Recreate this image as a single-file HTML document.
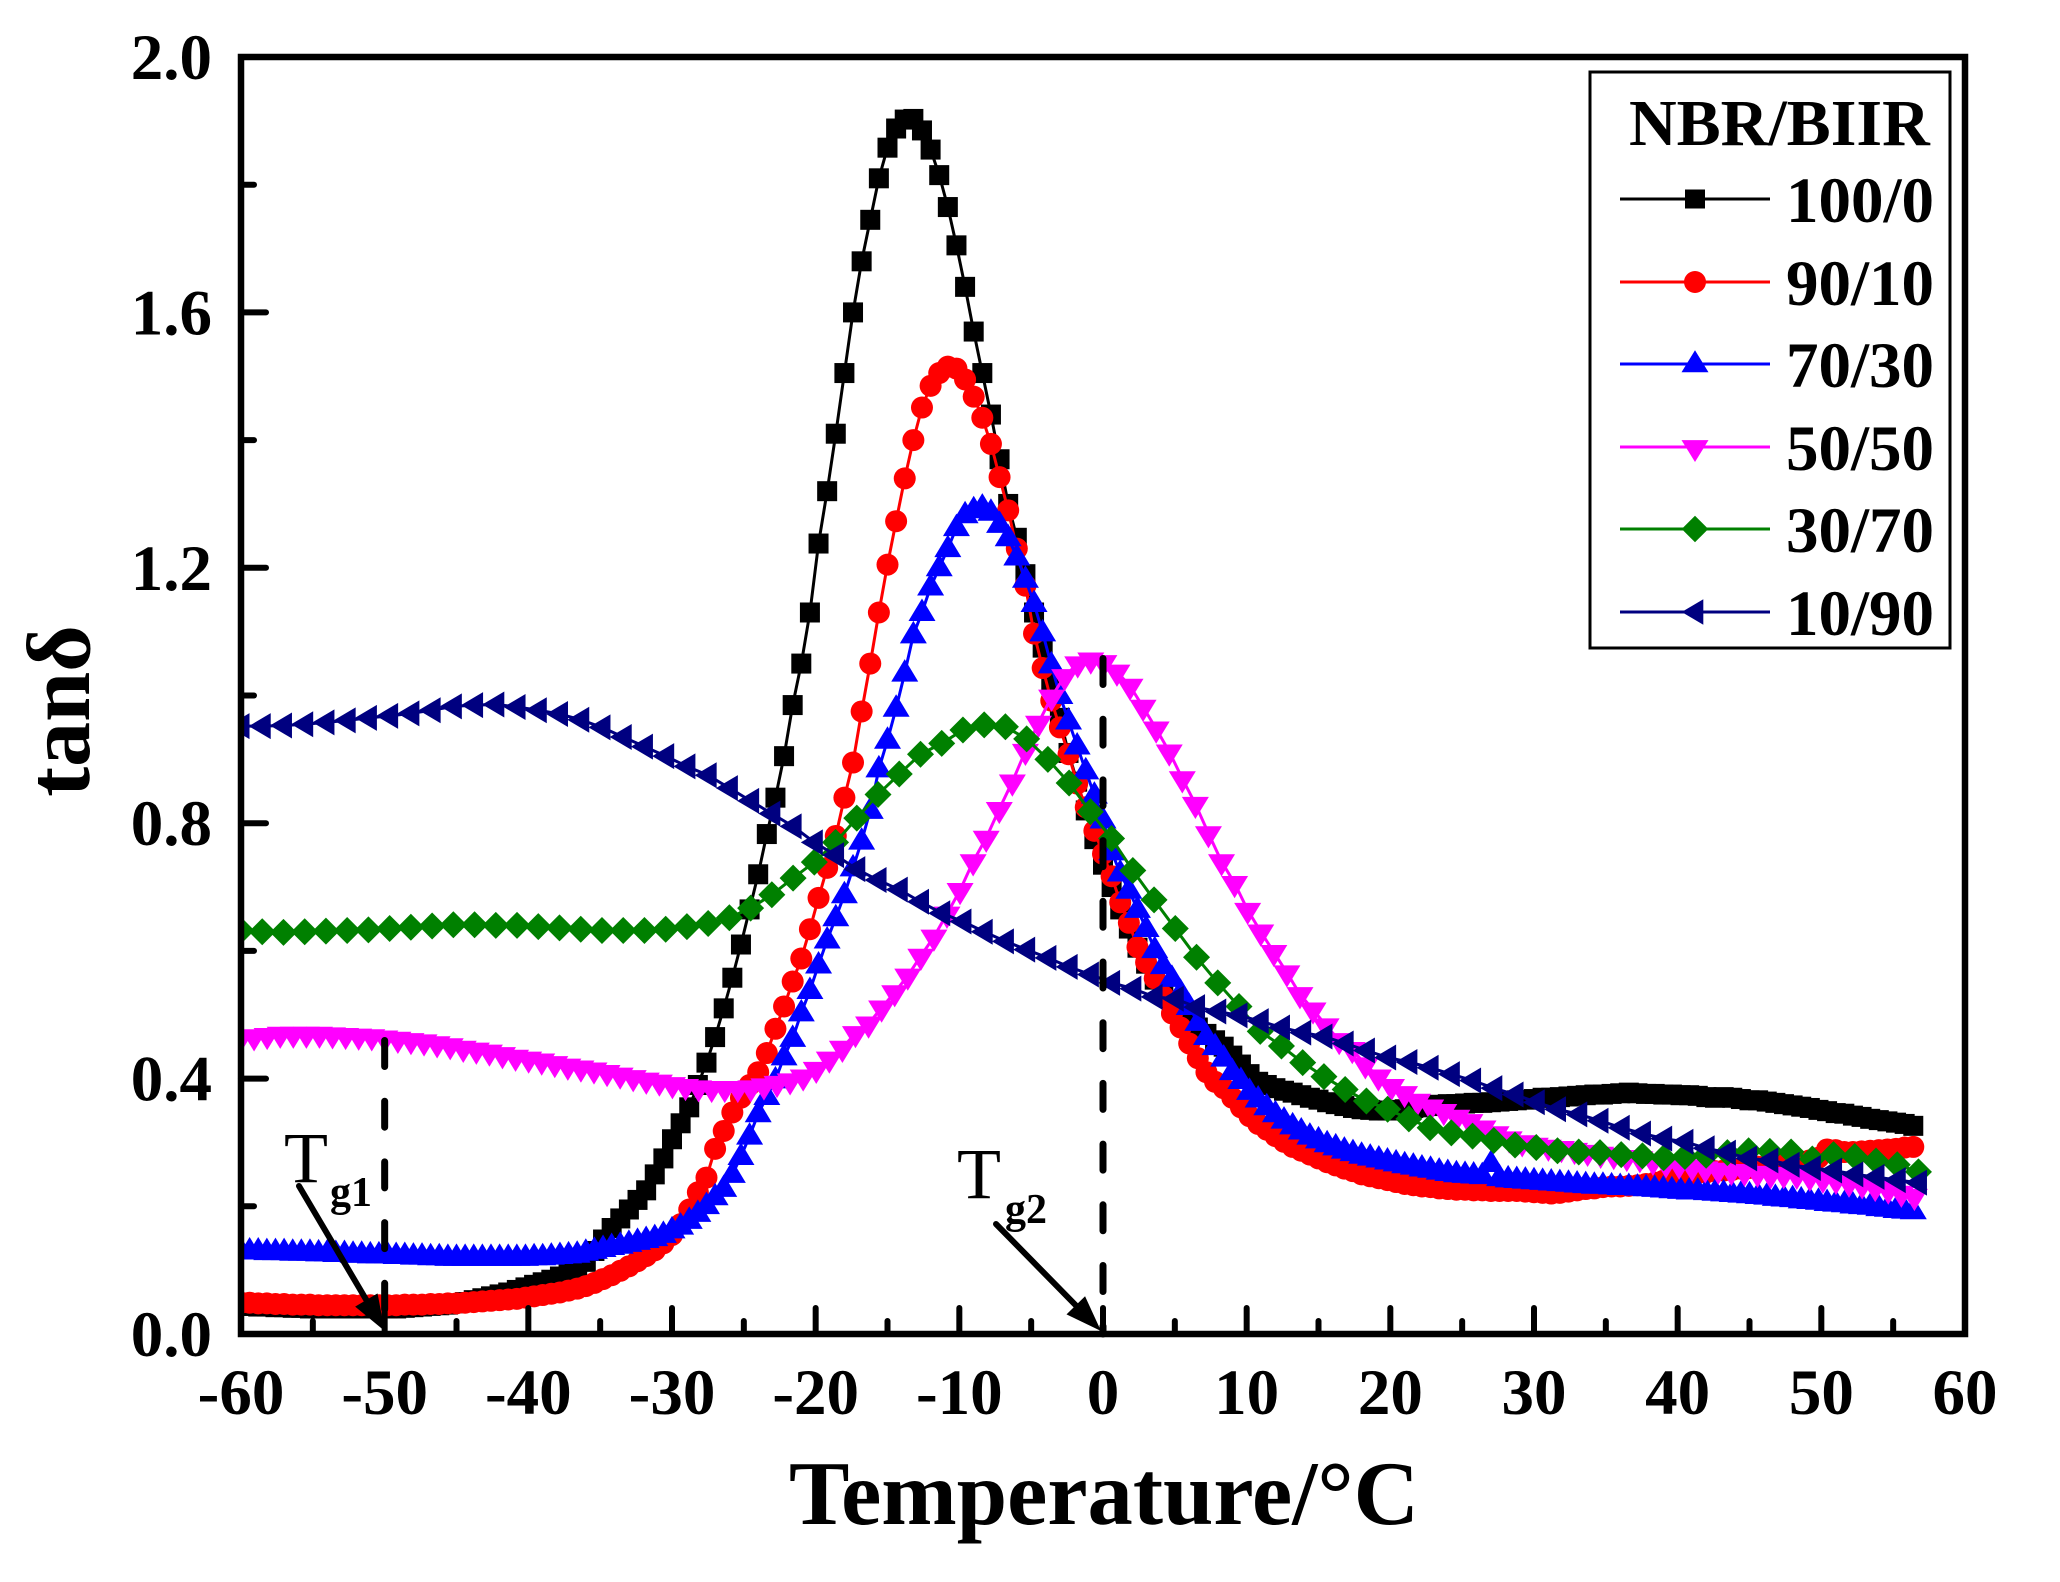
<!DOCTYPE html>
<html lang="en">
<head>
<meta charset="utf-8">
<title>tan delta vs temperature for NBR/BIIR blends</title>
<style>
html,body{margin:0;padding:0;background:#fff;}
svg{display:block;}
text{font-family:"Liberation Serif","Times New Roman",serif;fill:#000;}
.b{font-weight:bold;}
</style>
</head>
<body>
<svg id="chart" xmlns="http://www.w3.org/2000/svg" width="2060" height="1582" viewBox="0 0 2060 1582">
<rect x="0" y="0" width="2060" height="1582" fill="#fff"/>
<defs><clipPath id="plot-clip"><rect x="241" y="57" width="1724" height="1277"/></clipPath></defs>
<g id="series-layer" clip-path="url(#plot-clip)"></g>
<g id="axis-layer"></g>
<rect x="241" y="57" width="1724" height="1277" fill="none" stroke="#000" stroke-width="6.5"/>
<g id="annotation-layer"></g>
<text class="b" x="1104" y="1524" font-size="90.6" text-anchor="middle">Temperature/°C</text>
<text class="b" transform="translate(89,711) rotate(-90)" font-size="90" text-anchor="middle">tanδ</text>
<text x="284" y="1182" font-size="72">T</text>
<text class="b" x="330" y="1206" font-size="42">g1</text>
<text x="957" y="1198" font-size="72">T</text>
<text class="b" x="1005" y="1223" font-size="42">g2</text>
<g>
<rect x="1590" y="72" width="360" height="576" fill="#fff" stroke="#000" stroke-width="3"/>
<text class="b" x="1629" y="145" font-size="66">NBR/BIIR</text>
<g>
<line x1="1620" x2="1770" y1="199" y2="199" stroke="#000" stroke-width="3"/>
<rect x="1685" y="189.5" width="20" height="19" fill="#000"/>
<text class="b" x="1786" y="222" font-size="65">100/0</text>
</g>
<g>
<line x1="1620" x2="1770" y1="282" y2="282" stroke="#f00" stroke-width="3"/>
<circle cx="1695" cy="282" r="11" fill="#f00"/>
<text class="b" x="1786" y="305" font-size="65">90/10</text>
</g>
<g>
<line x1="1620" x2="1770" y1="364" y2="364" stroke="#00f" stroke-width="3"/>
<polygon points="1695,350.2 1708.5,372.3 1681.5,372.3" fill="#00f"/>
<text class="b" x="1786" y="387" font-size="65">70/30</text>
</g>
<g>
<line x1="1620" x2="1770" y1="447" y2="447" stroke="#f0f" stroke-width="3"/>
<polygon points="1695,462 1708.5,440.1 1681.5,440.1" fill="#f0f"/>
<text class="b" x="1786" y="470" font-size="65">50/50</text>
</g>
<g>
<line x1="1620" x2="1770" y1="529" y2="529" stroke="#008000" stroke-width="3"/>
<polygon points="1695,515.8 1708.3,529 1695,542.2 1681.7,529" fill="#008000"/>
<text class="b" x="1786" y="552" font-size="65">30/70</text>
</g>
<g>
<line x1="1620" x2="1770" y1="612" y2="612" stroke="#000080" stroke-width="3"/>
<polygon points="1681.7,612 1703.3,599.3 1703.3,624.7" fill="#000080"/>
<text class="b" x="1786" y="635" font-size="65">10/90</text>
</g>
</g>
</svg>
<script>
// Sampling grids (°C): first temperature and spacing of the instrument readings
const denseStart = -60, denseStep = 0.6;
const midStart = -60, midStep = 0.91;
const sparseStart = -60, sparseStep = 1.478;

// Tick labels
const xMajorTicks = [-60,-50,-40,-30,-20,-10,0,10,20,30,40,50,60];
const xMinorTicks = [-55,-45,-35,-25,-15,-5,5,15,25,35,45,55];
const yMajorTicks = [0,0.4,0.8,1.2,1.6,2.0];
const yMinorTicks = [0.2,0.6,1.0,1.4,1.8];

// Series values (tan delta)
const series100_0 = [
.044,.044,.043,.043,.042,.042,.041,.041,.040,.040,
.040,.040,.040,.040,.040,.040,.040,.040,.040,.041,
.042,.043,.044,.045,.046,.048,.050,.053,.056,.059,
.062,.065,.069,.073,.077,.081,.085,.090,.095,.104,
.113,.130,.148,.166,.181,.195,.210,.225,.250,.275,
.305,.330,.355,.390,.425,.465,.510,.558,.610,.665,
.720,.783,.840,.905,.985,1.050,1.130,1.238,1.320,1.410,
1.505,1.600,1.680,1.745,1.810,1.858,1.888,1.902,1.903,1.885,
1.855,1.815,1.765,1.705,1.640,1.570,1.505,1.440,1.370,1.300,
1.247,1.190,1.130,1.075,1.020,.965,.910,.865,.820,.775,
.735,.700,.665,.635,.605,.580,.555,.535,.520,.505,
.495,.480,.470,.460,.450,.436,.422,.407,.395,.390,
.385,.381,.378,.374,.370,.367,.363,.360,.357,.354,
.352,.351,.350,.350,.351,.352,.354,.355,.357,.359,
.360,.360,.361,.362,.362,.363,.364,.365,.366,.367,
.368,.370,.370,.371,.372,.373,.374,.375,.375,.376,
.377,.378,.377,.376,.376,.375,.375,.374,.374,.373,
.371,.370,.371,.370,.368,.366,.366,.364,.362,.360,
.358,.356,.354,.351,.349,.346,.345,.342,.340,.337,
.335,.333,.331,.329,.326];

const series90_10 = [
.049,.049,.048,.048,.047,.047,.046,.046,.046,.045,
.045,.045,.045,.045,.045,.045,.045,.045,.045,.046,
.046,.046,.047,.047,.048,.048,.049,.050,.051,.052,
.053,.054,.055,.057,.059,.061,.063,.065,.068,.071,
.075,.080,.086,.092,.099,.106,.114,.122,.131,.142,
.155,.172,.195,.222,.245,.290,.318,.347,.370,.390,
.410,.440,.478,.513,.552,.588,.634,.683,.730,.780,
.840,.895,.975,1.050,1.130,1.205,1.273,1.340,1.400,1.451,
1.485,1.505,1.515,1.512,1.495,1.468,1.435,1.394,1.342,1.290,
1.230,1.172,1.097,1.043,.992,.950,.908,.862,.825,.788,
.752,.717,.676,.644,.606,.582,.557,.529,.502,.480,
.455,.432,.410,.395,.385,.370,.355,.341,.329,.320,
.310,.301,.293,.287,.281,.275,.269,.264,.259,.255,
.250,.247,.244,.241,.238,.235,.233,.231,.230,.228,
.227,.226,.226,.225,.225,.224,.224,.224,.224,.223,
.222,.221,.220,.221,.223,.225,.227,.228,.230,.231,
.231,.232,.233,.235,.237,.240,.243,.247,.250,.252,
.253,.255,.256,.257,.259,.260,.262,.263,.264,.266,
.268,.270,.272,.276,.289,.288,.285,.285,.286,.287,
.288,.289,.290,.292,.293];

const series70_30 = [
.130,.130,.130,.129,.129,.129,.128,.128,.128,.127,
.127,.126,.126,.125,.125,.124,.124,.124,.123,.123,
.122,.122,.121,.121,.120,.120,.120,.120,.120,.120,
.120,.120,.120,.120,.121,.121,.122,.123,.124,.125,
.128,.131,.134,.137,.139,.142,.145,.148,.151,.156,
.163,.169,.178,.189,.201,.215,.228,.250,.278,.310,
.345,.372,.398,.434,.463,.503,.538,.578,.617,.652,
.688,.730,.772,.820,.885,.930,.980,1.035,1.095,1.130,
1.170,1.200,1.230,1.263,1.283,1.291,1.295,1.287,1.268,1.247,
1.217,1.182,1.144,1.098,1.048,1.000,.960,.921,.882,.844,
.805,.755,.722,.695,.665,.635,.602,.577,.557,.535,
.513,.488,.466,.450,.432,.411,.397,.380,.368,.356,
.345,.335,.326,.318,.310,.304,.298,.293,.288,.284,
.280,.277,.274,.271,.268,.265,.263,.260,.258,.255,
.253,.251,.250,.249,.248,.267,.245,.243,.242,.241,
.240,.239,.238,.237,.236,.235,.234,.233,.233,.232,
.231,.231,.230,.229,.228,.227,.226,.225,.224,.224,
.223,.222,.221,.220,.219,.218,.217,.216,.214,.213,
.212,.210,.209,.208,.206,.205,.204,.202,.201,.200,
.198,.197,.195,.194,.193];

const series50_50 = [
.465,.466,.468,.470,.470,.470,.470,.469,.468,.467,
.466,.464,.462,.460,.458,.455,.452,.448,.445,.442,
.438,.434,.431,.428,.424,.420,.417,.414,.410,.406,
.402,.398,.395,.391,.388,.386,.385,.385,.385,.386,
.389,.393,.397,.403,.415,.431,.448,.471,.486,.511,
.535,.561,.592,.622,.658,.695,.740,.777,.822,.865,
.913,.957,.998,1.030,1.050,1.056,1.052,1.037,1.015,.982,
.948,.912,.870,.830,.784,.740,.706,.664,.630,.598,
.566,.532,.508,.483,.460,.446,.422,.403,.388,.377,
.365,.356,.349,.340,.333,.323,.314,.306,.300,.296,
.293,.291,.288,.285,.282,.280,.277,.275,.271,.267,
.265,.262,.259,.257,.255,.254,.252,.250,.250,.249,
.246,.243,.241,.237,.234,.230,.226,.221,.216];

const series30_70 = [
.632,.630,.629,.630,.631,.632,.633,.635,.637,.639,
.641,.641,.640,.640,.638,.636,.634,.632,.632,.632,
.634,.638,.643,.652,.667,.688,.714,.739,.770,.808,
.845,.877,.908,.925,.946,.954,.951,.932,.900,.863,
.818,.776,.726,.680,.635,.590,.550,.513,.474,.451,
.425,.403,.383,.365,.352,.337,.323,.315,.310,.303,
.296,.292,.287,.285,.284,.281,.279,.276,.278,.280,
.284,.287,.286,.285,.274,.281,.278,.271,.265,.254];

const series10_90 = [
.952,.952,.953,.955,.958,.961,.965,.968,.972,.977,
.983,.985,.986,.982,.977,.971,.962,.950,.935,.920,
.905,.889,.875,.855,.835,.815,.795,.770,.750,.728,
.711,.696,.677,.659,.646,.630,.615,.602,.589,.575,
.563,.550,.541,.528,.525,.512,.505,.499,.490,.480,
.472,.466,.455,.444,.433,.426,.417,.407,.397,.385,
.375,.363,.352,.344,.334,.323,.314,.306,.301,.291,
.284,.275,.272,.265,.260,.256,.250,.246,.241,.237];

const SVGNS = 'http://www.w3.org/2000/svg';
const xScale = t => 241 + (t + 60) * (1965 - 241) / 120;
const yScale = v => 1334 - v * (1334 - 57) / 2;

function shape(kind, attrs, parent) {
  const el = document.createElementNS(SVGNS, kind);
  for (const k in attrs) el.setAttribute(k, attrs[k]);
  parent.appendChild(el);
  return el;
}

function poly(cx, cy, pts) {
  return pts.map(p => (cx + p[0]).toFixed(2) + ',' + (cy + p[1]).toFixed(2)).join(' ');
}

const triUp = [[0,-14],[13.5,8.5],[-13.5,8.5]];
const triDown = [[0,15],[13.5,-7.2],[-13.5,-7.2]];
const diamond = [[0,-13.5],[13.5,0],[0,13.5],[-13.5,0]];
const triLeft = [[-13.5,0],[8.5,-13],[8.5,13]];

function drawMarker(type, x, y, color, parent) {
  if (type === 'square') return shape('rect', {x:x-10, y:y-10, width:20, height:20, fill:color}, parent);
  if (type === 'circle') return shape('circle', {cx:x, cy:y, r:11, fill:color}, parent);
  const pts = type === 'up' ? triUp : type === 'down' ? triDown : type === 'diamond' ? diamond : triLeft;
  return shape('polygon', {points:poly(x, y, pts), fill:color}, parent);
}

function drawSeries(name, values, start, step, color, type) {
  const layer = document.getElementById('series-layer');
  const g = shape('g', {}, layer);
  
  
  const coords = values.map((v, i) => [xScale(start + i * step), yScale(v)]);
  const line = shape('polyline', {
    points: coords.map(c => c[0].toFixed(2) + ',' + c[1].toFixed(2)).join(' '),
    fill: 'none', stroke: color, 'stroke-width': 3
  }, g);
  
  
  coords.forEach(c => {
    const m = drawMarker(type, c[0], c[1], color, g);
    
    
  });
}

drawSeries('100-0', series100_0, denseStart, denseStep, '#000', 'square');
drawSeries('90-10', series90_10, denseStart, denseStep, '#f00', 'circle');
drawSeries('70-30', series70_30, denseStart, denseStep, '#00f', 'up');
drawSeries('50-50', series50_50, midStart, midStep, '#f0f', 'down');
drawSeries('30-70', series30_70, sparseStart, sparseStep, '#008000', 'diamond');
drawSeries('10-90', series10_90, sparseStart, sparseStep, '#000080', 'left');

// Axes
const axisLayer = document.getElementById('axis-layer');
function tick(x1, y1, x2, y2, name) {
  const t = shape('line', {x1, y1, x2, y2, stroke:'#000', 'stroke-width':6, 'stroke-linecap':'round'}, axisLayer);
  
  
}
xMajorTicks.forEach(v => {
  const x = xScale(v);
  if (v !== -60 && v !== 60) tick(x, 1334, x, 1308, 'x-major-tick');
  const label = shape('text', {x, y:1414, 'font-size':65, 'font-weight':'bold', 'text-anchor':'middle'}, axisLayer);
  
  
  label.textContent = String(v);
});
xMinorTicks.forEach(v => tick(xScale(v), 1334, xScale(v), 1321, 'x-minor-tick'));
yMajorTicks.forEach(v => {
  const y = yScale(v);
  if (v !== 0 && v !== 2) tick(241, y, 266, y, 'y-major-tick');
  const label = shape('text', {x:212, y:y+22, 'font-size':65, 'font-weight':'bold', 'text-anchor':'end'}, axisLayer);
  
  
  label.textContent = v.toFixed(1);
});
yMinorTicks.forEach(v => tick(241, yScale(v), 254, yScale(v), 'y-minor-tick'));

// Glass transition annotations
const annotationLayer = document.getElementById('annotation-layer');
function dashed(temp, yTop, name) {
  const d = shape('line', {
    x1:xScale(temp), x2:xScale(temp), y1:yTop+3.5, y2:1334,
    stroke:'#000', 'stroke-width':7, 'stroke-linecap':'round', 'stroke-dasharray':'26 34.7'
  }, annotationLayer);
  
  
}
dashed(-50, 1037, 'tg1-dashed-line');
dashed(0, 655, 'tg2-dashed-line');

function arrow(x1, y1, x2, y2, name) {
  const g = shape('g', {}, annotationLayer);
  
  
  const dx = x2 - x1, dy = y2 - y1, len = Math.hypot(dx, dy);
  const ux = dx / len, uy = dy / len, head = 36, half = 13;
  const bx = x2 - ux * head, by = y2 - uy * head;
  shape('line', {x1, y1, x2:bx, y2:by, stroke:'#000', 'stroke-width':6, 'stroke-linecap':'round'}, g);
  shape('polygon', {
    points: [x2 + ',' + y2,
      (bx - uy * half) + ',' + (by + ux * half),
      (bx + uy * half) + ',' + (by - ux * half)].join(' '),
    fill:'#000'
  }, g);
}
arrow(299, 1186, xScale(-50), 1331, 'tg1-arrow');
arrow(996, 1224, xScale(0) - 2, 1331, 'tg2-arrow');
</script>
</body>
</html>
